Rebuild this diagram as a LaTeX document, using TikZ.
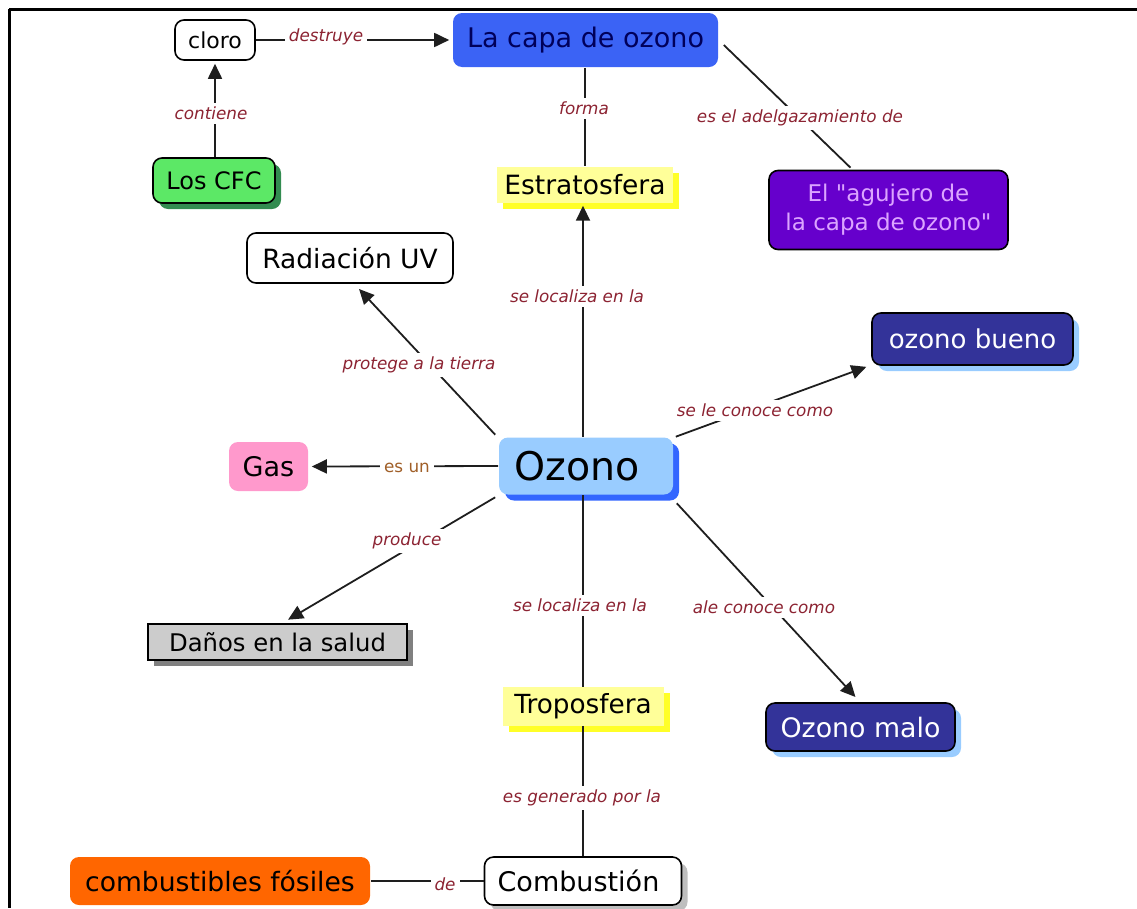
\documentclass[tikz,border=0pt]{standalone}
\usepackage{fontspec}
\setmainfont{DejaVu Sans}[Ligatures=TeXOff]
\usetikzlibrary{arrows.meta,shadows,calc}
\newcommand\myfs[2]{\fontsize{#1}{#2}\selectfont}
\definecolor{lblred}{RGB}{140,35,50}
\definecolor{lblbrown}{RGB}{160,95,40}
\definecolor{linec}{RGB}{30,30,30}
\definecolor{capablue}{RGB}{59,99,245}
\definecolor{capatext}{RGB}{0,0,90}
\definecolor{ozlight}{RGB}{153,204,255}
\definecolor{ozdark}{RGB}{51,102,255}
\definecolor{cfcgreen}{RGB}{92,232,102}
\definecolor{cfcshadow}{RGB}{50,140,80}
\definecolor{yellowbox}{RGB}{255,255,153}
\definecolor{yellowshadow}{RGB}{255,255,40}
\definecolor{purplebox}{RGB}{102,0,204}
\definecolor{purpletext}{RGB}{220,165,255}
\definecolor{navybox}{RGB}{51,51,153}
\definecolor{lightshadow}{RGB}{153,204,255}
\definecolor{pinkbox}{RGB}{255,153,204}
\definecolor{greybox}{RGB}{204,204,204}
\definecolor{greyshadow}{RGB}{128,128,128}
\definecolor{orangebox}{RGB}{255,102,0}
\definecolor{lightgreyshadow}{RGB}{190,190,190}
\begin{document}
\begin{tikzpicture}[x=1pt,y=-1pt,
  concept/.style={rounded corners=9pt, inner sep=0pt, align=center, line width=1.6pt},
  lbl/.style={fill=white, inner sep=4pt, text=lblred, font=\myfs{16.8}{20}\itshape},
  conn/.style={line width=1.8pt, draw=linec},
  arr/.style={conn, -{Triangle[length=15pt,width=14pt]}, shorten >=3pt},
  shad/.style={drop shadow={shadow xshift=6pt, shadow yshift=-6pt, fill=#1, opacity=1}},
]
\useasboundingbox (0,0) rectangle (1137,908);
% frame
\draw[line width=3pt] (9,9) -- (1137,9);
\draw[line width=3pt] (9,9) -- (9,908);

% concepts
\node[concept, draw, fill=white, minimum width=80pt, minimum height=40pt, font=\myfs{22}{26}] (cloro) at (215,40) {cloro};
\node[concept, fill=capablue, text=capatext, minimum width=265pt, minimum height=54pt, font=\myfs{27}{32}] (capa) at (585.5,40) {La capa de ozono};
\node[concept, draw, fill=cfcgreen, shad=cfcshadow, minimum width=122pt, minimum height=45pt, font=\myfs{24}{29}] (cfc) at (214,180.5) {Los CFC};
\node[inner sep=0pt, fill=yellowbox, shad=yellowshadow, minimum width=176pt, minimum height=36pt, font=\myfs{26.5}{32}] (estrat) at (585,184.5) {Estratosfera};
\node[concept, draw, fill=purplebox, text=purpletext, minimum width=239pt, minimum height=79pt, font=\myfs{23}{29}] (agujero) at (888.5,210) {El "agujero de\\la capa de ozono"};
\node[concept, draw, fill=white, minimum width=206pt, minimum height=50pt, font=\myfs{26.5}{32}] (radiacion) at (350,258) {Radiación UV};
\node[concept, draw, fill=navybox, text=white, shad=lightshadow, minimum width=201pt, minimum height=52pt, font=\myfs{26}{31}] (bueno) at (972.5,339) {ozono bueno};
\node[concept, fill=pinkbox, minimum width=79pt, minimum height=49pt, font=\myfs{27}{32}] (gas) at (268.5,466.5) {Gas};
\node[concept, fill=ozlight, shad=ozdark, minimum width=174pt, minimum height=57pt, font=\myfs{39.5}{47}] (ozono) at (586,466) {Ozono\hspace*{17pt}};
\node[draw, line width=1.6pt, inner sep=0pt, fill=greybox, shad=greyshadow, minimum width=259pt, minimum height=36pt, font=\myfs{24.3}{29}] (danos) at (277.5,642) {Daños en la salud};
\node[inner sep=0pt, fill=yellowbox, shad=yellowshadow, minimum width=161pt, minimum height=39pt, font=\myfs{26.3}{31}] (tropo) at (583,706.5) {Troposfera};
\node[concept, draw, fill=navybox, text=white, shad=lightshadow, minimum width=189pt, minimum height=48pt, font=\myfs{26.8}{32}] (malo) at (860.5,727) {Ozono malo};
\node[concept, draw, fill=white, shad=lightgreyshadow, minimum width=197pt, minimum height=48pt, font=\myfs{27}{32}] (combustion) at (583,881) {Combustión\hspace*{9pt}};
\node[concept, fill=orangebox, minimum width=300pt, minimum height=48pt, font=\myfs{26.6}{32}] (fosiles) at (220,881) {combustibles fósiles};

% connectors
\draw[arr] (cloro.east) -- (capa.west);
\draw[arr] (cloro.south |- cfc.north) -- (cloro.south);
\draw[conn] (estrat.north |- capa.south) -- (estrat.north);
\draw[conn] ($(capa.east)+(5,5)$) -- ($(agujero.north)+(-38,-2)$);
\draw[arr] ($(ozono.north)+(-3,0)$) -- ($(estrat.south)+(-2,0)$);
\draw[arr] ($(ozono.north west)+(-3,-2)$) -- ($(radiacion.south)+(7,3)$);
\draw[arr] ($(ozono.north east)+(2,0)$) -- ($(bueno.south west)+(-2,0)$);
\draw[arr] (ozono.west) -- (gas.east);
\draw[arr] ($(ozono.south west)+(-3,2)$) -- ($(danos.north)+(8,-2)$);
\draw[conn] (tropo.north |- ozono.south) -- (tropo.north);
\draw[arr] ($(ozono.south east)+(3,8)$) -- ($(malo.north)+(-3,-3)$);
\draw[conn] (tropo.south) -- (combustion.north);
\draw[conn] (combustion.west) -- (fosiles.east);

% link labels
\node[lbl] (ldestruye) at (326,37) {destruye};
\node[lbl] (lcontiene) at (211,113) {contiene};
\node[lbl] (lforma) at (584,108) {forma};
\node[lbl] (ladelg) at (800,118) {es el adelgazamiento de};
\node[lbl] (lloc1) at (577,296) {se localiza en la};
\node[lbl] (lprot) at (419,365) {protege a la tierra};
\node[lbl] (lconoce) at (755,410) {se le conoce como};
\node[lbl, text=lblbrown, font=\myfs{16.8}{20}] (lesun) at (407,468) {es un};
\node[lbl] (lproduce) at (407,541) {produce};
\node[lbl] (lloc2) at (580,605) {se localiza en la};
\node[lbl] (lale) at (764,607) {ale conoce como};
\node[lbl] (lgen) at (582,798) {es generado por la};
\node[lbl] (lde) at (445,884) {de};
\end{tikzpicture}
\end{document}
